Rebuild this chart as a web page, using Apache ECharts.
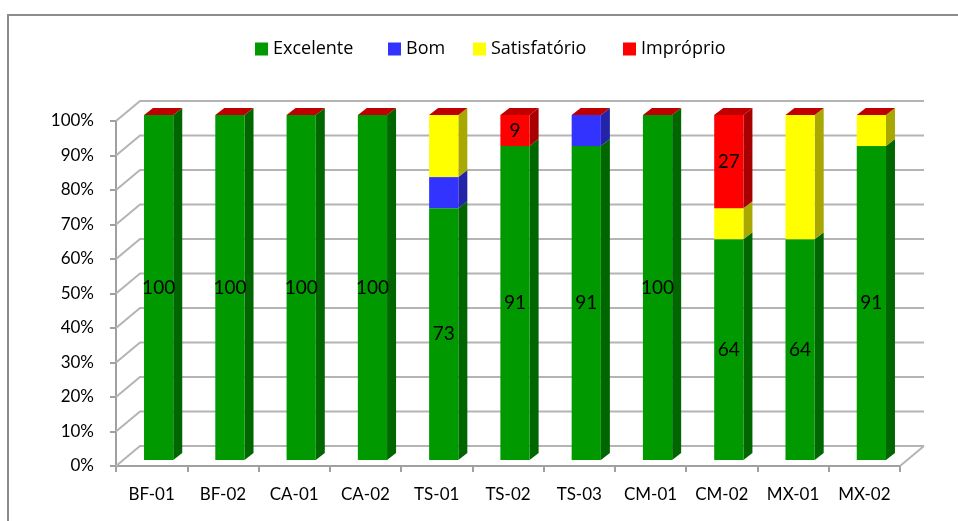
<!DOCTYPE html>
<html>
<head>
<meta charset="utf-8">
<script src="https://cdn.jsdelivr.net/npm/echarts@6/dist/echarts.min.js"></script>
<style>
  html, body { margin: 0; padding: 0; background: #ffffff; }
  #chart { width: 958px; height: 521px; }
</style>
</head>
<body>
<div id="chart"></div>
<script>
// Sampling points and share of samples per quality class (%)
const categories = ['BF-01', 'BF-02', 'CA-01', 'CA-02', 'TS-01', 'TS-02', 'TS-03', 'CM-01', 'CM-02', 'MX-01', 'MX-02'];
const excelente    = [100, 100, 100, 100, 73, 91, 91, 100, 64, 64, 91];
const bom          = [0, 0, 0, 0, 9, 0, 9, 0, 0, 0, 0];
const satisfatorio = [0, 0, 0, 0, 18, 0, 0, 0, 9, 36, 9];
const improprio    = [0, 0, 0, 0, 0, 9, 0, 0, 27, 0, 0];
const yTicks = [0, 10, 20, 30, 40, 50, 60, 70, 80, 90, 100];

const FONT = 'Lato';
const LEGEND_FONT = 'Open Sans';

// Pseudo-3D geometry (pixels)
const WALL_DX = 24, WALL_DY = -20;   // depth of the back wall
const BAR_OX = 7, BAR_OY = -6;       // bar front face offset from the front plane
const BAR_DX = 9, BAR_DY = -7;       // bar depth
const BAR_RATIO = 0.41;

const seriesDefs = [
  { name: 'Excelente',    values: excelente,    front: '#009900', side: '#006600', top: '#00b000', label: true,  legendLeft: 255 },
  { name: 'Bom',          values: bom,          front: '#3333ff', side: '#2424a8', top: '#5555ff', label: false, legendLeft: 388 },
  { name: 'Satisfatório', values: satisfatorio, front: '#ffff00', side: '#a8a800', top: '#e0e000', label: false, legendLeft: 473 },
  { name: 'Impróprio',    values: improprio,    front: '#ff0000', side: '#a80000', top: '#c00000', label: true,  legendLeft: 623 }
];

// Stack the classes: each item is [category, base, top, value]
const base = categories.map(() => 0);
const stacked = seriesDefs.map(def => def.values.map((v, i) => {
  const item = [i, base[i], base[i] + v, v];
  base[i] += v;
  return item;
}));

function barRenderer(def, isTop) {
  return function (params, api) {
    const i = api.value(0), b = api.value(1), t = api.value(2), v = api.value(3);
    const pb = api.coord([i, b]);
    const pt = api.coord([i, t]);
    const band = api.size([1, 0])[0];
    const w = band * BAR_RATIO;
    const x0 = pb[0] - w / 2 + BAR_OX;
    const x1 = x0 + w;
    const yb = pb[1] + BAR_OY;
    const yt = pt[1] + BAR_OY;
    const children = [];
    if (yb - yt > 0.01) {
      children.push({
        type: 'polygon',
        shape: { points: [[x1, yb], [x1 + BAR_DX, yb + BAR_DY], [x1 + BAR_DX, yt + BAR_DY], [x1, yt]] },
        style: { fill: def.side }
      });
      children.push({
        type: 'rect',
        shape: { x: x0, y: yt, width: w, height: yb - yt },
        style: { fill: def.front }
      });
    }
    if (isTop) {
      children.push({
        type: 'polygon',
        shape: { points: [[x0, yt], [x1, yt], [x1 + BAR_DX, yt + BAR_DY], [x0 + BAR_DX, yt + BAR_DY]] },
        style: { fill: def.top }
      });
    }
    if (def.label && v > 0) {
      children.push({
        type: 'text',
        style: {
          text: String(v),
          x: x0 + w / 2,
          y: (yb + yt) / 2,
          align: 'center',
          verticalAlign: 'middle',
          fill: '#000000',
          font: '19px ' + FONT
        }
      });
    }
    return { type: 'group', children: children };
  };
}

// Back wall, side wall and floor lines
function wallRenderer(params, api) {
  const band = api.size([1, 0])[0];
  const left = api.coord([0, 0])[0] - band / 2;
  const right = api.coord([categories.length - 1, 0])[0] + band / 2;
  const children = [];
  yTicks.forEach(v => {
    const y = api.coord([0, v])[1];
    children.push({
      type: 'polyline',
      shape: { points: [[left, y], [left + WALL_DX, y + WALL_DY], [right + WALL_DX, y + WALL_DY]] },
      style: { stroke: '#b4b4b4', lineWidth: 2, fill: null }
    });
  });
  const y0 = api.coord([0, 0])[1];
  children.push({
    type: 'line',
    shape: { x1: right, y1: y0, x2: right + WALL_DX, y2: y0 + WALL_DY },
    style: { stroke: '#b4b4b4', lineWidth: 2 }
  });
  return { type: 'group', children: children };
}

const series = [{
  type: 'custom',
  name: 'walls',
  silent: true,
  z: 1,
  renderItem: wallRenderer,
  data: [[0, 0]]
}].concat(seriesDefs.map((def, k) => ({
  type: 'custom',
  name: def.name,
  z: 2,
  itemStyle: { color: def.front },
  renderItem: barRenderer(def, k === seriesDefs.length - 1),
  encode: { x: 0, y: 2 },
  data: stacked[k]
})));

// One legend entry per class, laid out along the top
const legends = seriesDefs.map(def => ({
  data: [def.name],
  top: 40,
  left: def.legendLeft,
  padding: 0,
  icon: 'rect',
  itemWidth: 13,
  itemHeight: 13,
  textStyle: { fontFamily: LEGEND_FONT, fontSize: 18, color: '#000000' }
}));

const chart = echarts.init(document.getElementById('chart'), null, { renderer: 'canvas' });
chart.setOption({
  animation: false,
  backgroundColor: '#ffffff',
  textStyle: { fontFamily: FONT },
  legend: legends,
  grid: { left: 116, right: 58, top: 121, bottom: 55, containLabel: false },
  xAxis: {
    type: 'category',
    data: categories,
    axisLine: { show: true, lineStyle: { color: '#a0a0a0', width: 2 } },
    axisTick: { show: true, length: 6, lineStyle: { color: '#a0a0a0', width: 2 } },
    axisLabel: { margin: 20, fontFamily: FONT, fontSize: 17, color: '#000000' },
    splitLine: { show: false }
  },
  yAxis: {
    type: 'value',
    min: 0,
    max: 100,
    interval: 10,
    axisLine: { show: true, lineStyle: { color: '#a0a0a0', width: 2 } },
    axisTick: { show: true, length: 6, lineStyle: { color: '#a0a0a0', width: 2 } },
    axisLabel: { margin: 22, fontFamily: FONT, fontSize: 17, color: '#000000', formatter: v => v + '%' },
    splitLine: { show: false }
  },
  graphic: [{
    type: 'rect',
    shape: { x: 8, y: 15, width: 1000, height: 600 },
    style: { fill: null, stroke: '#8c8c8c', lineWidth: 2 },
    silent: true,
    z: -1
  }],
  series: series
});
</script>
</body>
</html>
